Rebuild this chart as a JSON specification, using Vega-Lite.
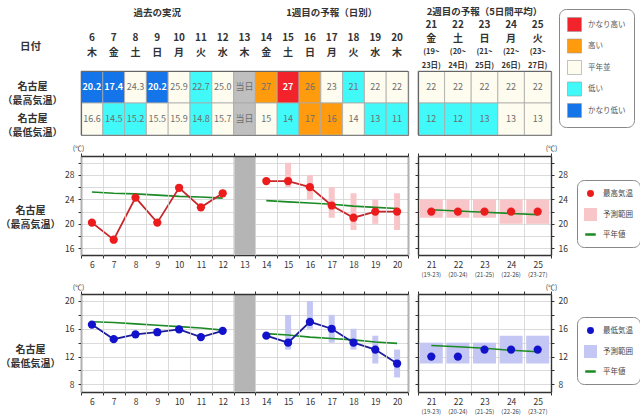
{
  "$schema": "https://vega.github.io/schema/vega-lite/v6.json",
  "width": 640,
  "height": 418,
  "autosize": {"type": "none"},
  "padding": 0,
  "background": "white",
  "config": {
    "font": "Noto Sans CJK JP",
    "view": {"stroke": null},
    "axis": {"domainColor": "#333", "domainWidth": 1.4, "tickColor": "#333", "tickSize": 3, "tickWidth": 1, "labelColor": "#333", "labelFontSize": 8.5, "labelAngle": 0, "gridColor": "#d2d2d2", "gridWidth": 0.8, "labelPadding": 3}
  },
  "datasets": {
    "hdrL": [
      {"d": 6, "wd": "木"}, {"d": 7, "wd": "金"}, {"d": 8, "wd": "土"}, {"d": 9, "wd": "日"}, {"d": 10, "wd": "月"},
      {"d": 11, "wd": "火"}, {"d": 12, "wd": "水"}, {"d": 13, "wd": "木"}, {"d": 14, "wd": "金"}, {"d": 15, "wd": "土"},
      {"d": 16, "wd": "日"}, {"d": 17, "wd": "月"}, {"d": 18, "wd": "火"}, {"d": 19, "wd": "水"}, {"d": 20, "wd": "木"}
    ],
    "hdrR": [
      {"d": 21, "wd": "金", "s1": "(19~", "s2": "23日)", "sub": "(19-23)"},
      {"d": 22, "wd": "土", "s1": "(20~", "s2": "24日)", "sub": "(20-24)"},
      {"d": 23, "wd": "日", "s1": "(21~", "s2": "25日)", "sub": "(21-25)"},
      {"d": 24, "wd": "月", "s1": "(22~", "s2": "26日)", "sub": "(22-26)"},
      {"d": 25, "wd": "火", "s1": "(23~", "s2": "27日)", "sub": "(23-27)"}
    ],
    "sec": [
      {"d": 9, "t": "過去の実況"},
      {"d": 17, "t": "1週目の予報（日別）"},
      {"d": 23, "t": "2週目の予報（5日間平均）"}
    ],
    "today": [{"d": 13}],
    "cells": [
      {"d": 6, "r": "max", "v": "20.2", "c": "かなり低い"},
      {"d": 7, "r": "max", "v": "17.4", "c": "かなり低い"},
      {"d": 8, "r": "max", "v": "24.3", "c": "平年並"},
      {"d": 9, "r": "max", "v": "20.2", "c": "かなり低い"},
      {"d": 10, "r": "max", "v": "25.9", "c": "平年並"},
      {"d": 11, "r": "max", "v": "22.7", "c": "低い"},
      {"d": 12, "r": "max", "v": "25.0", "c": "平年並"},
      {"d": 13, "r": "max", "v": "当日", "c": "当日"},
      {"d": 14, "r": "max", "v": "27", "c": "高い"},
      {"d": 15, "r": "max", "v": "27", "c": "かなり高い"},
      {"d": 16, "r": "max", "v": "26", "c": "高い"},
      {"d": 17, "r": "max", "v": "23", "c": "平年並"},
      {"d": 18, "r": "max", "v": "21", "c": "低い"},
      {"d": 19, "r": "max", "v": "22", "c": "平年並"},
      {"d": 20, "r": "max", "v": "22", "c": "平年並"},
      {"d": 21, "r": "max", "v": "22", "c": "平年並"},
      {"d": 22, "r": "max", "v": "22", "c": "平年並"},
      {"d": 23, "r": "max", "v": "22", "c": "平年並"},
      {"d": 24, "r": "max", "v": "22", "c": "平年並"},
      {"d": 25, "r": "max", "v": "22", "c": "平年並"},
      {"d": 6, "r": "min", "v": "16.6", "c": "平年並"},
      {"d": 7, "r": "min", "v": "14.5", "c": "低い"},
      {"d": 8, "r": "min", "v": "15.2", "c": "低い"},
      {"d": 9, "r": "min", "v": "15.5", "c": "平年並"},
      {"d": 10, "r": "min", "v": "15.9", "c": "平年並"},
      {"d": 11, "r": "min", "v": "14.8", "c": "低い"},
      {"d": 12, "r": "min", "v": "15.7", "c": "平年並"},
      {"d": 13, "r": "min", "v": "当日", "c": "当日"},
      {"d": 14, "r": "min", "v": "15", "c": "平年並"},
      {"d": 15, "r": "min", "v": "14", "c": "低い"},
      {"d": 16, "r": "min", "v": "17", "c": "高い"},
      {"d": 17, "r": "min", "v": "16", "c": "高い"},
      {"d": 18, "r": "min", "v": "14", "c": "平年並"},
      {"d": 19, "r": "min", "v": "13", "c": "低い"},
      {"d": 20, "r": "min", "v": "11", "c": "低い"},
      {"d": 21, "r": "min", "v": "12", "c": "低い"},
      {"d": 22, "r": "min", "v": "12", "c": "低い"},
      {"d": 23, "r": "min", "v": "13", "c": "低い"},
      {"d": 24, "r": "min", "v": "13", "c": "平年並"},
      {"d": 25, "r": "min", "v": "13", "c": "平年並"}
    ],
    "tx": [
      {"d": 6, "g": "a", "t": 20.2, "n": 25.2},
      {"d": 7, "g": "a", "t": 17.4, "n": 25.0},
      {"d": 8, "g": "a", "t": 24.3, "n": 24.9},
      {"d": 9, "g": "a", "t": 20.2, "n": 24.7},
      {"d": 10, "g": "a", "t": 25.9, "n": 24.5},
      {"d": 11, "g": "a", "t": 22.7, "n": 24.4},
      {"d": 12, "g": "a", "t": 25.0, "n": 24.2},
      {"d": 14, "g": "f", "t": 27, "n": 23.8},
      {"d": 15, "g": "f", "t": 27, "lo": 26, "hi": 30, "n": 23.6},
      {"d": 16, "g": "f", "t": 26, "lo": 24, "hi": 28, "n": 23.4},
      {"d": 17, "g": "f", "t": 23, "lo": 21, "hi": 26, "n": 23.2},
      {"d": 18, "g": "f", "t": 21, "lo": 19, "hi": 25, "n": 22.9},
      {"d": 19, "g": "f", "t": 22, "lo": 20, "hi": 24, "n": 22.7},
      {"d": 20, "g": "f", "t": 22, "lo": 19, "hi": 25, "n": 22.5},
      {"d": 21, "g": "w", "t": 22, "lo": 21, "hi": 24, "n": 22.3},
      {"d": 22, "g": "w", "t": 22, "lo": 21, "hi": 24, "n": 22.1},
      {"d": 23, "g": "w", "t": 22, "lo": 21, "hi": 24, "n": 21.9},
      {"d": 24, "g": "w", "t": 22, "lo": 20, "hi": 24, "n": 21.7},
      {"d": 25, "g": "w", "t": 22, "lo": 20, "hi": 24, "n": 21.5}
    ],
    "tn": [
      {"d": 6, "g": "a", "t": 16.6, "n": 17.0},
      {"d": 7, "g": "a", "t": 14.5, "n": 16.9},
      {"d": 8, "g": "a", "t": 15.2, "n": 16.7},
      {"d": 9, "g": "a", "t": 15.5, "n": 16.5},
      {"d": 10, "g": "a", "t": 15.9, "n": 16.3},
      {"d": 11, "g": "a", "t": 14.8, "n": 16.1},
      {"d": 12, "g": "a", "t": 15.7, "n": 15.8},
      {"d": 14, "g": "f", "t": 15, "n": 15.3},
      {"d": 15, "g": "f", "t": 14, "lo": 13, "hi": 18, "n": 15.1},
      {"d": 16, "g": "f", "t": 17, "lo": 16, "hi": 20, "n": 14.8},
      {"d": 17, "g": "f", "t": 16, "lo": 14, "hi": 18, "n": 14.6},
      {"d": 18, "g": "f", "t": 14, "lo": 13, "hi": 16, "n": 14.4},
      {"d": 19, "g": "f", "t": 13, "lo": 11, "hi": 15, "n": 14.1},
      {"d": 20, "g": "f", "t": 11, "lo": 9, "hi": 13, "n": 13.9},
      {"d": 21, "g": "w", "t": 12, "lo": 11, "hi": 14, "n": 13.6},
      {"d": 22, "g": "w", "t": 12, "lo": 11, "hi": 14, "n": 13.4},
      {"d": 23, "g": "w", "t": 13, "lo": 11, "hi": 14, "n": 13.2},
      {"d": 24, "g": "w", "t": 13, "lo": 11, "hi": 15, "n": 12.9},
      {"d": 25, "g": "w", "t": 13, "lo": 11, "hi": 15, "n": 12.7}
    ]
  },
  "resolve": {
    "scale": {"x": "independent", "y": "independent", "color": "independent"},
    "axis": {"x": "independent", "y": "independent"},
    "legend": {"color": "independent"}
  },
  "layer": [
    {
      "layer": [
        {"data": {"name": "hdrL"}, "mark": {"type": "text", "fontSize": 10, "fontWeight": "bold", "color": "#333", "dy": -1.5},
         "encoding": {
           "x": {"field": "d", "type": "ordinal", "scale": {"type": "band", "domain": [6,7,8,9,10,11,12,13,14,15,16,17,18,19,20], "range": [81, 408], "paddingInner": 0, "paddingOuter": 0}, "axis": null},
           "y": {"datum": "num", "type": "nominal", "scale": {"type": "point", "domain": ["sec", "gap", "num", "wd"], "range": [13, 53], "padding": 0}, "axis": null},
           "text": {"field": "d", "type": "ordinal"}}},
        {"data": {"name": "hdrL"}, "mark": {"type": "text", "fontSize": 10, "fontWeight": "bold", "color": "#333"},
         "encoding": {
           "x": {"field": "d", "type": "ordinal", "axis": null},
           "y": {"datum": "wd", "type": "nominal", "axis": null},
           "text": {"field": "wd", "type": "nominal"}}},
        {"data": {"name": "sec"}, "transform": [{"filter": "datum.d <= 20"}], "mark": {"type": "text", "fontSize": 9.5, "fontWeight": "bold", "color": "#333"},
         "encoding": {
           "x": {"field": "d", "type": "ordinal", "axis": null},
           "y": {"datum": "sec", "type": "nominal", "axis": null},
           "text": {"field": "t", "type": "nominal"}}}
      ]
    },
    {
      "layer": [
        {"data": {"name": "hdrR"}, "mark": {"type": "text", "fontSize": 10, "fontWeight": "bold", "color": "#333"},
         "encoding": {
           "x": {"field": "d", "type": "ordinal", "scale": {"type": "band", "domain": [21,22,23,24,25], "range": [418, 551], "paddingInner": 0, "paddingOuter": 0}, "axis": null},
           "y": {"datum": "num", "type": "nominal", "scale": {"type": "point", "domain": ["sec", "num", "wd", "s1", "s2"], "range": [11.5, 66], "padding": 0}, "axis": null},
           "text": {"field": "d", "type": "ordinal"}}},
        {"data": {"name": "hdrR"}, "mark": {"type": "text", "fontSize": 10, "fontWeight": "bold", "color": "#333"},
         "encoding": {
           "x": {"field": "d", "type": "ordinal", "axis": null},
           "y": {"datum": "wd", "type": "nominal", "axis": null},
           "text": {"field": "wd", "type": "nominal"}}},
        {"data": {"name": "hdrR"}, "mark": {"type": "text", "fontSize": 7.5, "fontWeight": "bold", "color": "#333"},
         "encoding": {
           "x": {"field": "d", "type": "ordinal", "axis": null},
           "y": {"datum": "s1", "type": "nominal", "axis": null},
           "text": {"field": "s1", "type": "nominal"}}},
        {"data": {"name": "hdrR"}, "mark": {"type": "text", "fontSize": 7.5, "fontWeight": "bold", "color": "#333"},
         "encoding": {
           "x": {"field": "d", "type": "ordinal", "axis": null},
           "y": {"datum": "s2", "type": "nominal", "axis": null},
           "text": {"field": "s2", "type": "nominal"}}},
        {"data": {"name": "sec"}, "transform": [{"filter": "datum.d >= 21"}], "mark": {"type": "text", "fontSize": 9.5, "fontWeight": "bold", "color": "#333"},
         "encoding": {
           "x": {"field": "d", "type": "ordinal", "axis": null},
           "y": {"datum": "sec", "type": "nominal", "axis": null},
           "text": {"field": "t", "type": "nominal"}}}
      ]
    },
    {
      "resolve": {"axis": {"x": "independent", "y": "independent"}},
      "layer": [
        {"data": {"name": "cells"}, "transform": [{"filter": "datum.d <= 20"}],
         "mark": {"type": "rect", "stroke": "#aaaaaa", "strokeWidth": 0.8},
         "encoding": {
           "x": {"field": "d", "type": "ordinal", "scale": {"type": "band", "domain": [6,7,8,9,10,11,12,13,14,15,16,17,18,19,20], "range": [81, 408], "paddingInner": 0, "paddingOuter": 0},
                 "axis": {"orient": "top", "offset": -71, "labels": false, "ticks": false, "grid": false, "domainColor": "#666", "domainWidth": 1.2, "title": null}},
           "y": {"field": "r", "type": "nominal", "scale": {"type": "band", "domain": ["max", "min"], "range": [71, 135], "paddingInner": 0, "paddingOuter": 0},
                 "axis": {"orient": "left", "offset": -81, "ticks": false, "grid": false, "domainColor": "#666", "domainWidth": 1.2,
                          "labelExpr": "datum.value === 'max' ? ['名古屋', '（最高気温）'] : ['名古屋', '（最低気温）']",
                          "labelAlign": "center", "labelPadding": 49, "labelFontSize": 10, "labelFontWeight": "bold", "labelColor": "#333", "labelLineHeight": 14,
                          "title": "日付", "titleAngle": 0, "titleX": -51, "titleY": 46, "titleAlign": "center", "titleBaseline": "middle", "titleFontSize": 10.5, "titleFontWeight": "bold", "titleColor": "#333"}},
           "color": {"field": "c", "type": "nominal",
                     "scale": {"domain": ["かなり高い", "高い", "平年並", "低い", "かなり低い", "当日"], "range": ["#f2232a", "#ff9b0d", "#fdfcee", "#42f9f9", "#1474ea", "#bfbfbf"]},
                     "legend": {"orient": "none", "legendX": 559, "legendY": 9, "title": null, "values": ["かなり高い", "高い", "平年並", "低い", "かなり低い"],
                                "symbolType": "square", "symbolSize": 196, "symbolStrokeColor": "#999", "symbolStrokeWidth": 0.6, "symbolOpacity": 1,
                                "labelFontSize": 7.5, "labelColor": "#555", "labelOffset": 6, "rowPadding": 4.5, "padding": 8,
                                "strokeColor": "#888", "fillColor": "white", "cornerRadius": 7}}
         }},
        {"data": {"name": "cells"}, "transform": [{"filter": "datum.d <= 20 && datum.c !== 'かなり高い' && datum.c !== 'かなり低い'"}],
         "mark": {"type": "text", "fontSize": 9, "color": "#6e6e6e"},
         "encoding": {
           "x": {"field": "d", "type": "ordinal", "axis": {"orient": "bottom", "offset": -283, "labels": false, "ticks": false, "grid": false, "domainColor": "#666", "domainWidth": 1.2, "title": null}},
           "y": {"field": "r", "type": "nominal", "axis": {"orient": "right", "offset": -232, "labels": false, "ticks": false, "grid": false, "domainColor": "#666", "domainWidth": 1.2, "title": null}},
           "text": {"field": "v", "type": "nominal"}
         }},
        {"data": {"name": "cells"}, "transform": [{"filter": "datum.d <= 20 && (datum.c === 'かなり高い' || datum.c === 'かなり低い')"}],
         "mark": {"type": "text", "fontSize": 9, "fontWeight": "bold", "color": "white"},
         "encoding": {
           "x": {"field": "d", "type": "ordinal", "axis": null},
           "y": {"field": "r", "type": "nominal", "axis": null},
           "text": {"field": "v", "type": "nominal"}
         }}
      ]
    },
    {
      "resolve": {"axis": {"x": "independent", "y": "independent"}},
      "layer": [
        {"data": {"name": "cells"}, "transform": [{"filter": "datum.d >= 21"}],
         "mark": {"type": "rect", "stroke": "#aaaaaa", "strokeWidth": 0.8},
         "encoding": {
           "x": {"field": "d", "type": "ordinal", "scale": {"type": "band", "domain": [21,22,23,24,25], "range": [418, 551], "paddingInner": 0, "paddingOuter": 0},
                 "axis": {"orient": "top", "offset": -71, "labels": false, "ticks": false, "grid": false, "domainColor": "#666", "domainWidth": 1.2, "title": null}},
           "y": {"field": "r", "type": "nominal", "scale": {"type": "band", "domain": ["max", "min"], "range": [71, 135], "paddingInner": 0, "paddingOuter": 0},
                 "axis": {"orient": "left", "offset": -418, "labels": false, "ticks": false, "grid": false, "domainColor": "#666", "domainWidth": 1.2, "title": null}},
           "color": {"field": "c", "type": "nominal",
                     "scale": {"domain": ["かなり高い", "高い", "平年並", "低い", "かなり低い", "当日"], "range": ["#f2232a", "#ff9b0d", "#fdfcee", "#42f9f9", "#1474ea", "#bfbfbf"]},
                     "legend": null}
         }},
        {"data": {"name": "cells"}, "transform": [{"filter": "datum.d >= 21"}],
         "mark": {"type": "text", "fontSize": 9, "color": "#6e6e6e"},
         "encoding": {
           "x": {"field": "d", "type": "ordinal", "axis": {"orient": "bottom", "offset": -283, "labels": false, "ticks": false, "grid": false, "domainColor": "#666", "domainWidth": 1.2, "title": null}},
           "y": {"field": "r", "type": "nominal", "axis": {"orient": "right", "offset": -89, "labels": false, "ticks": false, "grid": false, "domainColor": "#666", "domainWidth": 1.2, "title": null}},
           "text": {"field": "v", "type": "nominal"}
         }}
      ]
    },
    {
      "resolve": {"axis": {"x": "independent", "y": "independent"}},
      "layer": [
        {"data": {"name": "today"},
         "mark": {"type": "rect", "color": "#b5b5b5"},
         "encoding": {
           "x": {"field": "d", "type": "ordinal", "scale": {"type": "band", "domain": [6,7,8,9,10,11,12,13,14,15,16,17,18,19,20], "range": [81, 408], "paddingInner": 0, "paddingOuter": 0},
                 "axis": {"orient": "top", "offset": -156, "tickBand": "extent", "labels": false, "grid": true, "title": null}},
           "y": {"datum": 31.1, "type": "quantitative", "scale": {"domain": [14.9, 31.1], "range": [255, 156], "nice": false, "zero": false},
                 "axis": {"orient": "left", "offset": -81, "values": [16, 18, 20, 22, 24, 26, 28, 30], "labelExpr": "datum.value % 4 === 0 ? datum.label : ''", "grid": true, "labelPadding": 4,
                          "title": "(℃)", "titleAngle": 0, "titleX": -3, "titleY": 148, "titleAlign": "center", "titleBaseline": "middle", "titleFontSize": 7, "titleFontWeight": "normal", "titleColor": "#333"}},
           "y2": {"datum": 14.9}
         }},
        {"data": {"name": "tx"}, "transform": [{"filter": "datum.d <= 20 && datum.lo != null"}],
         "mark": {"type": "bar", "width": 6},
         "encoding": {
           "x": {"field": "d", "type": "ordinal", "axis": {"orient": "bottom", "offset": -163, "tickBand": "extent", "grid": false, "labelPadding": 2, "title": null}},
           "y": {"field": "lo", "type": "quantitative",
                 "axis": {"orient": "right", "offset": -232, "labels": false, "ticks": false, "grid": false,
                          "title": ["名古屋", "（最高気温）"], "titleAngle": 0, "titleX": -378, "titleY": 210, "titleAlign": "center", "titleBaseline": "middle", "titleFontSize": 10, "titleFontWeight": "bold", "titleColor": "#333", "titleLineHeight": 14}},
           "y2": {"field": "hi"},
           "color": {"datum": "予測範囲", "type": "nominal", "scale": {"domain": ["最高気温", "予測範囲", "平年値"], "range": ["#ec1c1c", "#f8c5c8", "#1c8a24"]},
                     "legend": {"orient": "none", "legendX": 577, "legendY": 180, "title": null, "symbolSize": 110, "symbolOpacity": 1,
                                "labelFontSize": 7.5, "labelColor": "#444", "labelOffset": 6, "rowPadding": 3, "padding": 7,
                                "strokeColor": "#888", "fillColor": "white", "cornerRadius": 7,
                                "encode": {"symbols": {"update": {
                                  "shape": {"signal": "datum.value === '平年値' ? 'stroke' : datum.value === '予測範囲' ? 'square' : 'circle'"},
                                  "size": {"signal": "datum.value === '最高気温' ? 20 : 110"},
                                  "stroke": {"signal": "datum.value === '平年値' ? '#1c8a24' : 'transparent'"},
                                  "strokeWidth": {"value": 2.5}
                                }}}}}
         }},
        {"data": {"name": "tx"}, "transform": [{"filter": "datum.d <= 20"}],
         "mark": {"type": "line", "strokeWidth": 1.6},
         "encoding": {
           "x": {"field": "d", "type": "ordinal", "axis": null},
           "y": {"field": "n", "type": "quantitative", "axis": null},
           "detail": {"field": "g", "type": "nominal"},
           "color": {"datum": "平年値", "type": "nominal"}
         }},
        {"data": {"name": "tx"}, "transform": [{"filter": "datum.d <= 20"}],
         "mark": {"type": "line", "color": "#c8262b", "strokeWidth": 1.8},
         "encoding": {
           "x": {"field": "d", "type": "ordinal", "axis": null},
           "y": {"field": "t", "type": "quantitative", "axis": null},
           "detail": {"field": "g", "type": "nominal"}
         }},
        {"data": {"name": "tx"}, "transform": [{"filter": "datum.d <= 20"}],
         "mark": {"type": "point", "filled": true, "size": 68, "opacity": 1},
         "encoding": {
           "x": {"field": "d", "type": "ordinal", "axis": null},
           "y": {"field": "t", "type": "quantitative", "axis": null},
           "color": {"datum": "最高気温", "type": "nominal"}
         }}
      ]
    },
    {
      "resolve": {"axis": {"x": "independent", "y": "independent"}},
      "layer": [
        {"data": {"name": "tx"}, "transform": [{"filter": "datum.d >= 21"}],
         "mark": {"type": "bar", "width": 23},
         "encoding": {
           "x": {"field": "d", "type": "ordinal", "scale": {"type": "band", "domain": [21,22,23,24,25], "range": [418, 551], "paddingInner": 0, "paddingOuter": 0},
                 "axis": {"orient": "top", "offset": -156, "tickBand": "extent", "labels": false, "grid": true, "title": null}},
           "y": {"field": "lo", "type": "quantitative", "scale": {"domain": [14.9, 31.1], "range": [255, 156], "nice": false, "zero": false},
                 "axis": {"orient": "left", "offset": -418, "values": [16, 18, 20, 22, 24, 26, 28, 30], "labels": false, "grid": true, "title": null}},
           "y2": {"field": "hi"},
           "color": {"datum": "予測範囲", "type": "nominal", "scale": {"domain": ["最高気温", "予測範囲", "平年値"], "range": ["#ec1c1c", "#f8c5c8", "#1c8a24"]}, "legend": null}
         }},
        {"data": {"name": "tx"}, "transform": [{"filter": "datum.d >= 21"}],
         "mark": {"type": "line", "strokeWidth": 1.6},
         "encoding": {
           "x": {"field": "d", "type": "ordinal", "axis": {"orient": "bottom", "offset": -163, "tickBand": "extent", "grid": false, "labelPadding": 2, "title": null}},
           "y": {"field": "n", "type": "quantitative",
                 "axis": {"orient": "right", "offset": -89, "values": [16, 18, 20, 22, 24, 26, 28, 30], "labelExpr": "datum.value % 4 === 0 ? datum.label : ''", "grid": false, "labelPadding": 4,
                          "title": "(℃)", "titleAngle": 0, "titleX": 0, "titleY": 148, "titleAlign": "center", "titleBaseline": "middle", "titleFontSize": 7, "titleFontWeight": "normal", "titleColor": "#333"}},
           "color": {"datum": "平年値", "type": "nominal", "legend": null}
         }},
        {"data": {"name": "tx"}, "transform": [{"filter": "datum.d >= 21"}],
         "mark": {"type": "point", "filled": true, "size": 68, "opacity": 1},
         "encoding": {
           "x": {"field": "d", "type": "ordinal", "axis": null},
           "y": {"field": "t", "type": "quantitative", "axis": null},
           "color": {"datum": "最高気温", "type": "nominal", "legend": null}
         }}
      ]
    },
    {
      "resolve": {"axis": {"x": "independent", "y": "independent"}},
      "layer": [
        {"data": {"name": "today"},
         "mark": {"type": "rect", "color": "#b5b5b5"},
         "encoding": {
           "x": {"field": "d", "type": "ordinal", "scale": {"type": "band", "domain": [6,7,8,9,10,11,12,13,14,15,16,17,18,19,20], "range": [81, 408], "paddingInner": 0, "paddingOuter": 0},
                 "axis": {"orient": "top", "offset": -294, "tickBand": "extent", "labels": false, "grid": true, "title": null}},
           "y": {"datum": 21, "type": "quantitative", "scale": {"domain": [6.9, 21], "range": [392, 294], "nice": false, "zero": false},
                 "axis": {"orient": "left", "offset": -81, "values": [8, 10, 12, 14, 16, 18, 20], "labelExpr": "datum.value % 4 === 0 ? datum.label : ''", "grid": true, "labelPadding": 4,
                          "title": "(℃)", "titleAngle": 0, "titleX": -3, "titleY": 287, "titleAlign": "center", "titleBaseline": "middle", "titleFontSize": 7, "titleFontWeight": "normal", "titleColor": "#333"}},
           "y2": {"datum": 6.9}
         }},
        {"data": {"name": "tn"}, "transform": [{"filter": "datum.d <= 20 && datum.lo != null"}],
         "mark": {"type": "bar", "width": 6},
         "encoding": {
           "x": {"field": "d", "type": "ordinal", "axis": {"orient": "bottom", "offset": -26, "tickBand": "extent", "grid": false, "labelPadding": 2, "title": null}},
           "y": {"field": "lo", "type": "quantitative",
                 "axis": {"orient": "right", "offset": -232, "labels": false, "ticks": false, "grid": false,
                          "title": ["名古屋", "（最低気温）"], "titleAngle": 0, "titleX": -378, "titleY": 349, "titleAlign": "center", "titleBaseline": "middle", "titleFontSize": 10, "titleFontWeight": "bold", "titleColor": "#333", "titleLineHeight": 14}},
           "y2": {"field": "hi"},
           "color": {"datum": "予測範囲", "type": "nominal", "scale": {"domain": ["最低気温", "予測範囲", "平年値"], "range": ["#1212cc", "#c4c7f4", "#1c8a24"]},
                     "legend": {"orient": "none", "legendX": 577, "legendY": 317, "title": null, "symbolSize": 110, "symbolOpacity": 1,
                                "labelFontSize": 7.5, "labelColor": "#444", "labelOffset": 6, "rowPadding": 3, "padding": 7,
                                "strokeColor": "#888", "fillColor": "white", "cornerRadius": 7,
                                "encode": {"symbols": {"update": {
                                  "shape": {"signal": "datum.value === '平年値' ? 'stroke' : datum.value === '予測範囲' ? 'square' : 'circle'"},
                                  "size": {"signal": "datum.value === '最低気温' ? 20 : 110"},
                                  "stroke": {"signal": "datum.value === '平年値' ? '#1c8a24' : 'transparent'"},
                                  "strokeWidth": {"value": 2.5}
                                }}}}}
         }},
        {"data": {"name": "tn"}, "transform": [{"filter": "datum.d <= 20"}],
         "mark": {"type": "line", "strokeWidth": 1.6},
         "encoding": {
           "x": {"field": "d", "type": "ordinal", "axis": null},
           "y": {"field": "n", "type": "quantitative", "axis": null},
           "detail": {"field": "g", "type": "nominal"},
           "color": {"datum": "平年値", "type": "nominal"}
         }},
        {"data": {"name": "tn"}, "transform": [{"filter": "datum.d <= 20"}],
         "mark": {"type": "line", "color": "#1d1d9c", "strokeWidth": 1.8},
         "encoding": {
           "x": {"field": "d", "type": "ordinal", "axis": null},
           "y": {"field": "t", "type": "quantitative", "axis": null},
           "detail": {"field": "g", "type": "nominal"}
         }},
        {"data": {"name": "tn"}, "transform": [{"filter": "datum.d <= 20"}],
         "mark": {"type": "point", "filled": true, "size": 68, "opacity": 1},
         "encoding": {
           "x": {"field": "d", "type": "ordinal", "axis": null},
           "y": {"field": "t", "type": "quantitative", "axis": null},
           "color": {"datum": "最低気温", "type": "nominal"}
         }}
      ]
    },
    {
      "resolve": {"axis": {"x": "independent", "y": "independent"}},
      "layer": [
        {"data": {"name": "tn"}, "transform": [{"filter": "datum.d >= 21"}],
         "mark": {"type": "bar", "width": 23},
         "encoding": {
           "x": {"field": "d", "type": "ordinal", "scale": {"type": "band", "domain": [21,22,23,24,25], "range": [418, 551], "paddingInner": 0, "paddingOuter": 0},
                 "axis": {"orient": "top", "offset": -294, "tickBand": "extent", "labels": false, "grid": true, "title": null}},
           "y": {"field": "lo", "type": "quantitative", "scale": {"domain": [6.9, 21], "range": [392, 294], "nice": false, "zero": false},
                 "axis": {"orient": "left", "offset": -418, "values": [8, 10, 12, 14, 16, 18, 20], "labels": false, "grid": true, "title": null}},
           "y2": {"field": "hi"},
           "color": {"datum": "予測範囲", "type": "nominal", "scale": {"domain": ["最低気温", "予測範囲", "平年値"], "range": ["#1212cc", "#c4c7f4", "#1c8a24"]}, "legend": null}
         }},
        {"data": {"name": "tn"}, "transform": [{"filter": "datum.d >= 21"}],
         "mark": {"type": "line", "strokeWidth": 1.6},
         "encoding": {
           "x": {"field": "d", "type": "ordinal", "axis": {"orient": "bottom", "offset": -26, "tickBand": "extent", "grid": false, "labelPadding": 2, "title": null}},
           "y": {"field": "n", "type": "quantitative",
                 "axis": {"orient": "right", "offset": -89, "values": [8, 10, 12, 14, 16, 18, 20], "labelExpr": "datum.value % 4 === 0 ? datum.label : ''", "grid": false, "labelPadding": 4,
                          "title": "(℃)", "titleAngle": 0, "titleX": 0, "titleY": 287, "titleAlign": "center", "titleBaseline": "middle", "titleFontSize": 7, "titleFontWeight": "normal", "titleColor": "#333"}},
           "color": {"datum": "平年値", "type": "nominal", "legend": null}
         }},
        {"data": {"name": "tn"}, "transform": [{"filter": "datum.d >= 21"}],
         "mark": {"type": "point", "filled": true, "size": 68, "opacity": 1},
         "encoding": {
           "x": {"field": "d", "type": "ordinal", "axis": null},
           "y": {"field": "t", "type": "quantitative", "axis": null},
           "color": {"datum": "最低気温", "type": "nominal", "legend": null}
         }}
      ]
    },
    {
      "data": {"name": "hdrR"},
      "layer": [
        {"mark": {"type": "text", "fontSize": 6, "color": "#444"},
         "encoding": {
           "x": {"field": "d", "type": "ordinal", "scale": {"type": "band", "domain": [21,22,23,24,25], "range": [418, 551], "paddingInner": 0, "paddingOuter": 0}, "axis": null},
           "y": {"datum": "t", "type": "nominal", "scale": {"type": "point", "domain": ["t", "b"], "range": [275, 412], "padding": 0}, "axis": null},
           "text": {"field": "sub", "type": "nominal"}}},
        {"mark": {"type": "text", "fontSize": 6, "color": "#444"},
         "encoding": {
           "x": {"field": "d", "type": "ordinal", "axis": null},
           "y": {"datum": "b", "type": "nominal", "axis": null},
           "text": {"field": "sub", "type": "nominal"}}}
      ]
    }
  ]
}
